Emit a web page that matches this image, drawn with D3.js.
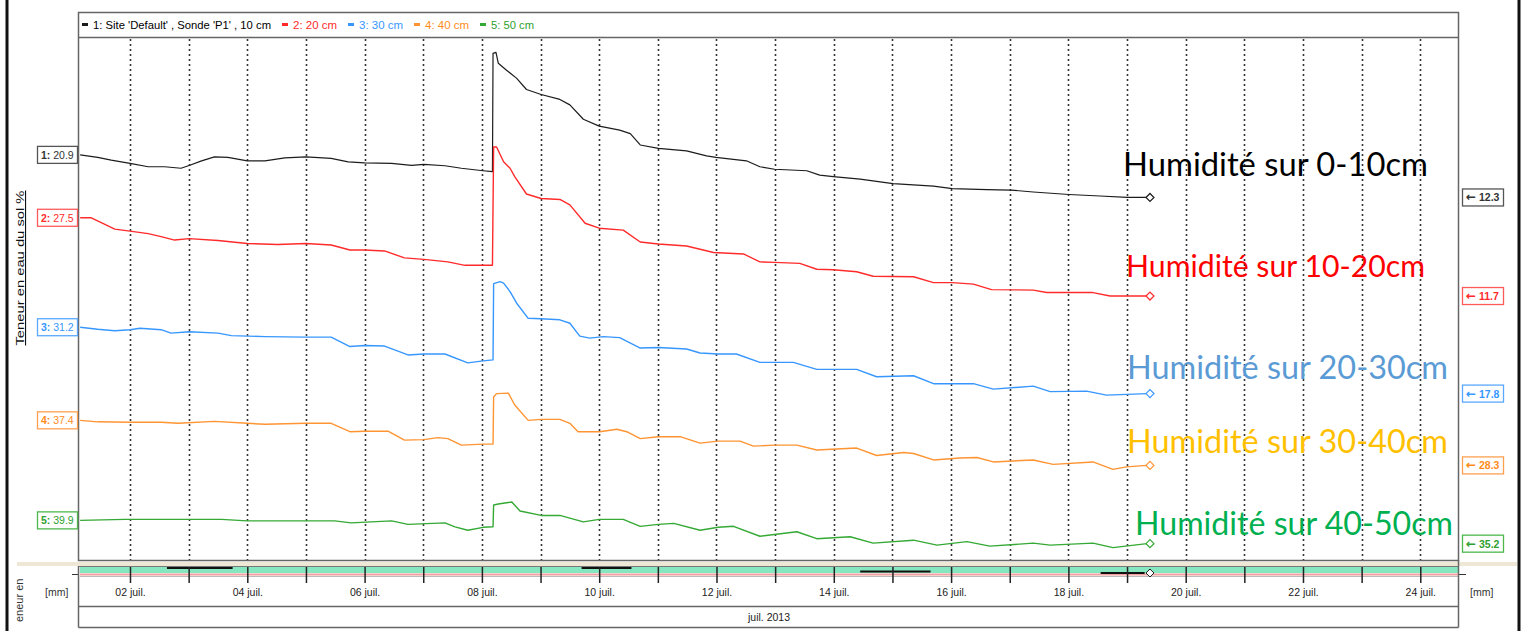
<!DOCTYPE html>
<html lang="fr">
<head>
<meta charset="UTF-8">
<title>Teneur en eau du sol - juillet 2013</title>
<script src="https://d3js.org/d3.v7.min.js"></script>
<style>
  body { margin: 0; background: #fff; }
  svg { display: block; font-family: "Liberation Sans", Arial, sans-serif; }
</style>
</head>
<body>
<svg width="1523" height="631"></svg>
<script>
// ---- data: [jour de juillet 2013 (décimal), teneur en eau %] ----
const s10 = [[1.15,20.9],[1.45,20.4],[1.68,19.85],[2.0,19.2],[2.31,18.5],[2.59,18.5],[2.87,18.2],[3.02,18.8],[3.22,19.7],[3.44,20.5],[3.67,20.4],[4.0,19.7],[4.3,19.7],[4.64,20.3],[5.0,20.5],[5.43,20.2],[5.72,19.5],[6.0,19.3],[6.46,19.2],[6.8,18.8],[7.01,19.0],[7.37,18.7],[7.65,18.2],[8.02,17.7],[8.18,17.5],[8.19,41.4],[8.24,41.6],[8.28,39.4],[8.42,38.0],[8.59,36.4],[8.76,34.1],[9.01,33.1],[9.33,32.1],[9.5,31.0],[9.73,28.1],[10.0,26.7],[10.35,25.9],[10.53,25.2],[10.7,22.9],[11.01,22.2],[11.49,21.7],[11.83,20.7],[11.99,20.4],[12.51,19.7],[12.74,18.5],[12.99,18.0],[13.54,17.7],[13.76,16.8],[13.99,16.5],[14.45,16.0],[15.01,15.1],[15.7,14.6],[16.02,14.1],[16.61,13.9],[17.02,13.8],[17.4,13.4],[18.01,12.9],[18.54,12.6],[19.0,12.3],[19.34,12.3]];
const s20 = [[1.15,27.5],[1.34,27.5],[1.51,26.5],[1.74,25.2],[2.0,24.8],[2.31,24.3],[2.53,23.7],[2.76,23.0],[3.01,23.3],[3.5,22.9],[4.0,22.3],[4.52,22.1],[5.0,22.3],[5.43,22.0],[5.75,21.0],[6.0,21.0],[6.34,20.8],[6.68,19.4],[7.01,19.1],[7.42,18.6],[7.71,17.9],[8.18,17.9],[8.2,41.8],[8.25,41.8],[8.37,38.8],[8.48,37.5],[8.56,35.8],[8.76,32.3],[9.01,31.4],[9.33,31.2],[9.5,30.1],[9.76,26.4],[10.0,25.4],[10.41,25.0],[10.7,22.6],[11.01,22.2],[11.49,21.8],[11.95,20.5],[12.46,20.2],[12.74,18.6],[12.99,18.5],[13.42,18.3],[13.71,17.1],[13.99,17.0],[14.39,16.6],[14.67,15.7],[15.36,15.6],[15.7,14.4],[16.02,14.4],[16.38,14.1],[16.69,13.0],[17.4,12.9],[17.63,12.4],[18.42,12.4],[18.71,11.7],[19.34,11.7]];
const s30 = [[1.15,31.2],[1.45,30.8],[1.74,30.5],[2.0,30.7],[2.17,31.0],[2.53,30.7],[2.7,30.0],[3.01,30.3],[3.5,30.0],[3.73,29.5],[4.3,29.3],[5.0,29.2],[5.43,29.2],[5.75,27.3],[6.0,27.5],[6.34,27.4],[6.74,25.6],[7.01,25.8],[7.37,25.8],[7.76,24.0],[8.02,24.4],[8.19,24.6],[8.2,40.0],[8.31,40.4],[8.37,40.1],[8.48,38.4],[8.59,36.1],[8.79,33.0],[9.01,32.9],[9.33,32.7],[9.5,32.0],[9.67,29.4],[9.84,29.0],[10.07,29.3],[10.35,29.1],[10.7,27.0],[11.01,27.1],[11.49,26.8],[11.72,26.0],[12.03,25.8],[12.34,25.8],[12.74,24.1],[13.31,24.1],[13.71,22.7],[14.39,22.7],[14.73,21.2],[15.36,21.4],[15.7,19.8],[16.38,19.8],[16.72,18.7],[17.4,19.3],[17.69,18.2],[18.31,18.3],[18.65,17.5],[19.34,17.8]];
const s40 = [[1.15,37.4],[1.45,37.1],[2.0,37.0],[2.53,37.0],[2.82,36.8],[3.44,37.2],[4.0,36.8],[4.3,36.6],[5.0,36.8],[5.43,36.8],[5.75,35.1],[6.0,35.2],[6.4,35.2],[6.68,33.4],[7.01,33.5],[7.25,33.9],[7.42,33.7],[7.65,32.4],[8.02,32.6],[8.19,32.6],[8.2,42.1],[8.25,42.8],[8.45,42.9],[8.56,40.5],[8.79,37.4],[9.01,37.6],[9.33,37.6],[9.5,36.8],[9.64,35.1],[10.01,35.1],[10.3,35.6],[10.47,35.1],[10.7,33.7],[11.01,34.1],[11.38,34.1],[11.72,32.8],[12.03,33.2],[12.4,33.2],[12.63,32.2],[12.99,32.4],[13.37,32.4],[13.71,31.4],[14.39,31.8],[14.73,30.3],[15.19,30.9],[15.36,30.7],[15.7,29.4],[16.15,29.8],[16.44,29.9],[16.72,29.0],[17.4,29.4],[17.74,28.5],[18.42,29.0],[18.76,27.5],[18.99,28.0],[19.34,28.3]];
const s50 = [[1.15,39.9],[1.91,40.1],[2.65,40.1],[3.56,40.1],[4.0,39.8],[5.49,39.8],[5.77,39.4],[6.46,39.8],[6.74,39.1],[7.37,39.4],[7.54,38.6],[7.76,37.9],[8.02,38.5],[8.19,38.6],[8.2,43.0],[8.28,43.2],[8.51,43.6],[8.65,41.8],[9.01,40.9],[9.33,40.9],[9.73,39.6],[10.0,40.1],[10.41,40.1],[10.7,38.7],[11.01,39.1],[11.27,39.3],[11.72,37.9],[12.03,38.5],[12.29,38.7],[12.74,36.7],[13.37,37.6],[13.71,36.2],[14.28,36.6],[14.67,35.3],[15.36,35.9],[15.76,34.9],[16.27,35.6],[16.66,34.7],[17.4,35.3],[17.69,34.9],[18.42,35.3],[18.76,34.4],[19.34,35.2]];

const legendLabels = ["1: Site 'Default' , Sonde 'P1' , 10 cm", "2: 20 cm", "3: 30 cm", "4: 40 cm", "5: 50 cm"];
const noteLabels = ["Humidité sur 0-10cm", "Humidité sur 10-20cm", "Humidité sur 20-30cm", "Humidité sur 30-40cm", "Humidité sur 40-50cm"];
// each probe has its own offset axis (same scale, shifted)
const axisTop = [44.5, 63.8, 89.6, 114.6, 137.3];
const axisSpan = 105.4;
// dark marks in the overview strip: [start day, end day, row]
const navMarks = [[2.63, 3.75, 0], [9.7, 10.55, 0], [14.45, 15.65, 1], [18.55, 19.3, 2]];

const seriesData = [s10, s20, s30, s40, s50];
const lineColors = ["#1c1c1c", "#ff2b2b", "#3797ff", "#ff9433", "#35a935"];
const textColors = ["#333", "#ff2b2b", "#3797ff", "#ff8c1a", "#2ea02e"];
const boxColors = ["#555", "#ff5a5a", "#5aa8ff", "#ffa050", "#4cb84c"];
const noteColors = ["#000000", "#ff0000", "#5b9bd5", "#ffc000", "#00b050"];

const svg = d3.select("svg");
const plot = { left: 80, right: 1458, top: 38, bottom: 560 };
const day0 = Date.UTC(2013, 6, 0);
const toDate = d => new Date(day0 + d * 864e5);

const x = d3.scaleUtc()
  .domain([toDate(1.1475), toDate(24.643)])
  .range([plot.left, plot.right]);
const yScales = axisTop.map(t => d3.scaleLinear()
  .domain([t - axisSpan, t])
  .range([plot.bottom, plot.top]));

// outer frame
[7, 1519].forEach(xx => svg.append("line")
  .attr("x1", xx).attr("x2", xx).attr("y1", 0).attr("y2", 631)
  .attr("stroke", "#111").attr("stroke-width", 3));

// beige separator
svg.append("rect").attr("x", 17).attr("y", 562).attr("width", 1500).attr("height", 4)
  .attr("fill", "#eee7d5");

// day gridlines
const days = d3.utcDay.range(x.domain()[0], x.domain()[1]);
svg.append("g").selectAll("line").data(days).join("line")
  .attr("x1", d => Math.round(x(d)) + 0.5).attr("x2", d => Math.round(x(d)) + 0.5)
  .attr("y1", plot.top + 1).attr("y2", plot.bottom)
  .attr("stroke", "#333").attr("stroke-width", 1.6)
  .attr("stroke-dasharray", "2,3");

// plot + legend frame
svg.append("rect")
  .attr("x", 78.5).attr("y", 12.5)
  .attr("width", plot.right - 78).attr("height", plot.bottom - 12)
  .attr("fill", "none").attr("stroke", "#666").attr("stroke-width", 1.5);
svg.append("line").attr("x1", 78.5).attr("x2", plot.right + 0.5)
  .attr("y1", plot.top - 0.5).attr("y2", plot.top - 0.5)
  .attr("stroke", "#666").attr("stroke-width", 1.5);

// legend
const legendWidths = [178, 44, 44, 44, 43];
let lx = 82;
legendLabels.forEach((lab, i) => {
  svg.append("rect").attr("x", lx).attr("y", 23).attr("width", 6).attr("height", 3)
    .attr("fill", lineColors[i]);
  svg.append("text").attr("x", lx + 11).attr("y", 28.5)
    .attr("font-size", 11).attr("fill", i === 0 ? "#000" : textColors[i])
    .attr("textLength", legendWidths[i]).attr("lengthAdjust", "spacingAndGlyphs")
    .text(lab);
  lx += 11 + legendWidths[i] + 11;
});

// series lines
const line = d3.line().x(d => x(toDate(d[0])));
seriesData.forEach((data, i) => {
  const y = yScales[i];
  svg.append("path").datum(data)
    .attr("fill", "none").attr("stroke", lineColors[i]).attr("stroke-width", i === 0 ? 1.2 : 1.4)
    .attr("stroke-linejoin", "round")
    .attr("d", line.y(d => y(d[1])));
  const last = data[data.length - 1];
  const cx = x(toDate(last[0])) + 3, cy = y(last[1]);
  svg.append("path")
    .attr("d", `M${cx - 4},${cy}L${cx},${cy - 4}L${cx + 4},${cy}L${cx},${cy + 4}Z`)
    .attr("fill", "#fff").attr("stroke", lineColors[i]).attr("stroke-width", 1.2);
});

// left value boxes (first values) and right boxes (last values)
seriesData.forEach((data, i) => {
  const y = yScales[i];
  const y0 = y(data[0][1]);
  const gl = svg.append("g").attr("transform", `translate(37,${y0})`);
  gl.append("rect").attr("x", 0.5).attr("y", -8.5).attr("width", 40).attr("height", 17)
    .attr("fill", "#fff").attr("stroke", boxColors[i]).attr("stroke-width", 1.3);
  const tl = gl.append("text").attr("x", 4).attr("y", 4).attr("font-size", 10.5)
    .attr("fill", textColors[i]);
  tl.append("tspan").attr("font-weight", "bold").text((i + 1) + ":");
  tl.append("tspan").text(" " + data[0][1].toFixed(1));

  const y1 = y(data[data.length - 1][1]);
  const gr = svg.append("g").attr("transform", `translate(1462,${y1})`);
  gr.append("rect").attr("x", 0.5).attr("y", -8.5).attr("width", 41).attr("height", 17)
    .attr("fill", "#fff").attr("stroke", boxColors[i]).attr("stroke-width", 1.3);
  const tr = gr.append("text").attr("x", 4).attr("y", 4).attr("font-size", 10.5)
    .attr("fill", textColors[i]);
  tr.append("tspan").attr("font-family", "'DejaVu Sans', sans-serif").attr("font-size", 12)
    .attr("font-weight", "bold").text("\u2190");
  tr.append("tspan").attr("font-weight", "bold").text(" " + data[data.length - 1][1].toFixed(1));
});

// y axis title (rotated)
svg.append("text")
  .attr("transform", "translate(24,268) rotate(-90)")
  .attr("text-anchor", "middle").attr("font-size", 11)
  .attr("text-decoration", "underline").attr("fill", "#111")
  .attr("textLength", 155).attr("lengthAdjust", "spacingAndGlyphs")
  .text("Teneur en eau du sol %");

// annotations
const notePos = [[1123, 176, 305, 32], [1126, 277, 299, 30], [1127, 379, 321, 32], [1127, 453, 321, 32], [1135, 535, 318, 32]];
noteLabels.forEach((lab, i) => {
  const p = notePos[i];
  svg.append("text").attr("x", p[0]).attr("y", p[1])
    .attr("font-family", "Lato, 'Open Sans', sans-serif").attr("font-size", p[3])
    .attr("fill", noteColors[i])
    .attr("textLength", p[2]).attr("lengthAdjust", "spacingAndGlyphs")
    .text(lab);
});

// ---- overview strip and time axis ----
svg.append("rect").attr("x", plot.left).attr("y", 567).attr("width", plot.right - plot.left).attr("height", 6)
  .attr("fill", "#86e6bf");
svg.append("line").attr("x1", 78.5).attr("x2", plot.right).attr("y1", 566.5).attr("y2", 566.5)
  .attr("stroke", "#777");
svg.append("line").attr("x1", plot.left).attr("x2", plot.right).attr("y1", 574.5).attr("y2", 574.5)
  .attr("stroke", "#f2a0a0").attr("stroke-width", 2);
svg.append("line").attr("x1", plot.left).attr("x2", plot.right).attr("y1", 576.5).attr("y2", 576.5)
  .attr("stroke", "#bbb");
[[72, 79], [1458, 1466]].forEach(s => svg.append("line")
  .attr("x1", s[0]).attr("x2", s[1]).attr("y1", 574.5).attr("y2", 574.5).attr("stroke", "#333"));
const navRowY = [568, 571.5, 573];
svg.append("g").selectAll("line").data(navMarks).join("line")
  .attr("x1", d => x(toDate(d[0]))).attr("x2", d => x(toDate(d[1])))
  .attr("y1", d => navRowY[d[2]]).attr("y2", d => navRowY[d[2]])
  .attr("stroke", "#111").attr("stroke-width", 2);
{
  const ex = x(toDate(s10[s10.length - 1][0])) + 3;
  svg.append("path").attr("d", `M${ex - 4},573L${ex},569L${ex + 4},573L${ex},577Z`)
    .attr("fill", "#fff").attr("stroke", "#222");
}

const fmtDay = d3.utcFormat("%d");
const xAxis = d3.axisBottom(x)
  .ticks(d3.utcDay.every(1))
  .tickSize(16).tickPadding(6)
  .tickFormat(d => d.getUTCDate() % 2 === 0 ? fmtDay(d) + " juil." : "");
const gx = svg.append("g").attr("transform", "translate(0,567)").call(xAxis);
gx.select(".domain").remove();
gx.selectAll(".tick line").attr("stroke", "#222").attr("stroke-width", 1.5);
gx.selectAll(".tick text").attr("font-size", 10.5).attr("fill", "#222")
  .attr("font-family", "'Liberation Sans', Arial, sans-serif");

// month row
svg.append("line").attr("x1", 78.5).attr("x2", 78.5).attr("y1", 566).attr("y2", 627.5).attr("stroke", "#666").attr("stroke-width", 1.5);
svg.append("line").attr("x1", plot.right + 0.5).attr("x2", plot.right + 0.5).attr("y1", 560).attr("y2", 627.5).attr("stroke", "#666").attr("stroke-width", 1.5);
[606.5, 627.5].forEach(yy => svg.append("line").attr("x1", 78.5).attr("x2", plot.right + 0.5)
  .attr("y1", yy).attr("y2", yy).attr("stroke", "#666").attr("stroke-width", 1.5));
svg.append("text").attr("x", (plot.left + plot.right) / 2).attr("y", 621)
  .attr("text-anchor", "middle").attr("font-size", 10.5).attr("fill", "#222")
  .text("juil. 2013");

// units
svg.append("text").attr("x", 45).attr("y", 596).attr("font-size", 10.5).attr("fill", "#333").text("[mm]");
svg.append("text").attr("x", 1470).attr("y", 596).attr("font-size", 10.5).attr("fill", "#333").text("[mm]");

// rotated strip title (only its visible part fits here)
svg.append("text")
  .attr("transform", "translate(23,622) rotate(-90)")
  .attr("font-size", 11).attr("fill", "#333")
  .text("eneur en");
</script>
</body>
</html>
